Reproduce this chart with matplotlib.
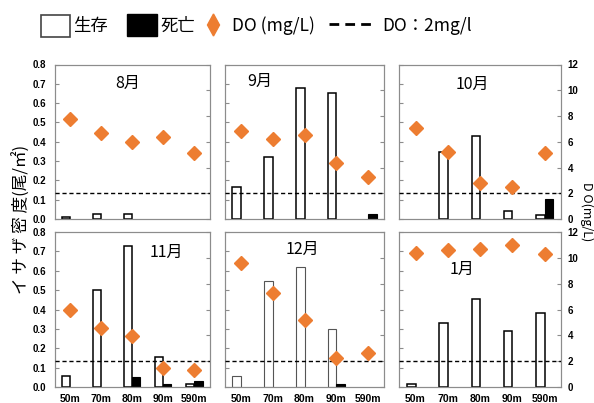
import matplotlib
matplotlib.use("Agg")
import matplotlib.pyplot as plt
from matplotlib.patches import Rectangle, Polygon
from matplotlib.lines import Line2D
import numpy as np

plt.rcParams['font.family'] = ['Noto Sans CJK JP', 'DejaVu Sans']

stations = ["50m", "70m", "80m", "90m", "590m"]
months = ["8月", "9月", "10月", "11月", "12月", "1月"]

alive = {
    "8月":  [0.012, 0.028, 0.028, 0.0, 0.0],
    "9月":  [0.168, 0.322, 0.676, 0.654, 0.0],
    "10月": [0.0, 0.346, 0.431, 0.040, 0.021],
    "11月": [0.057, 0.499, 0.728, 0.155, 0.014],
    "12月": [0.057, 0.545, 0.620, 0.300, 0.0],
    "1月":  [0.017, 0.329, 0.454, 0.288, 0.380],
}
dead = {
    "8月":  [0.0, 0.0, 0.0, 0.0, 0.0],
    "9月":  [0.0, 0.0, 0.0, 0.0, 0.025],
    "10月": [0.0, 0.0, 0.0, 0.0, 0.104],
    "11月": [0.0, 0.0, 0.054, 0.017, 0.030],
    "12月": [0.0, 0.0, 0.0, 0.015, 0.0],
    "1月":  [0.0, 0.0, 0.0, 0.0, 0.0],
}
do_vals = {
    "8月":  [7.8, 6.7, 6.0, 6.35, 5.1],
    "9月":  [6.87, 6.18, 6.5, 4.34, 3.28],
    "10月": [7.07, 5.19, 2.79, 2.5, 5.16],
    "11月": [6.0, 4.6, 3.98, 1.47, 1.29],
    "12月": [9.6, 7.25, 5.16, 2.22, 2.63],
    "1月":  [10.34, 10.62, 10.67, 11.0, 10.29],
}
do_threshold = 2.0

left_ticks = [0.0, 0.1, 0.2, 0.3, 0.4, 0.5, 0.6, 0.7, 0.8]
right_ticks = [0, 2, 4, 6, 8, 10, 12]

W, H = 594, 403
fig = plt.figure(figsize=(W / 100, H / 100), dpi=100)

cols = [(54.5, 210.0), (224.7, 384.3), (399.4, 560.7)]
rows = [(64.5, 219.0), (232.0, 387.0)]
label_pos = {
    "8月": (0.47, 0.88), "9月": (0.22, 0.89), "10月": (0.45, 0.87),
    "11月": (0.72, 0.87), "12月": (0.49, 0.89), "1月": (0.39, 0.76),
}

orange = "#ED7D31"
spine_c = "#8c8c8c"
bw = 0.26
x = np.arange(len(stations))

for i, m in enumerate(months):
    r, c = divmod(i, 3)
    x0, x1 = cols[c]
    y0, y1 = rows[r]
    ax = fig.add_axes([x0 / W, 1 - y1 / H, (x1 - x0) / W, (y1 - y0) / H])
    ax2 = ax.twinx()

    ec = "#555555" if m == "12月" else "black"
    lw = 0.8 if m == "12月" else 1.1
    a_vals = np.array(alive[m])
    d_vals = np.array(dead[m])
    am = a_vals > 0
    dm = d_vals > 0
    ax.bar(x[am] - bw, a_vals[am], width=bw, align='edge', facecolor='white',
           edgecolor=ec, linewidth=lw, zorder=2)
    if dm.any():
        ax.bar(x[dm], d_vals[dm], width=bw, align='edge', facecolor='black',
               edgecolor='black', linewidth=0.8, zorder=2)
    ax.set_xlim(-0.5, len(stations) - 0.5)
    ax.set_ylim(0, 0.8)
    ax.set_yticks(left_ticks)
    ax.set_xticks(x)

    ax2.set_ylim(0, 12)
    ax2.set_yticks(right_ticks)
    ax2.axhline(do_threshold, color='black', linestyle=(0, (3, 2)), linewidth=1.0, zorder=3)
    ax2.plot(x, do_vals[m], linestyle='none', marker='D', markersize=7,
             color=orange, markeredgecolor=orange, zorder=4)

    for a in (ax, ax2):
        for s in a.spines.values():
            s.set_color(spine_c)
            s.set_linewidth(0.8)

    ax.tick_params(axis='y', direction='in', length=3, color=spine_c,
                   labelsize=7, pad=6)
    ax2.tick_params(axis='y', direction='in', length=3, color=spine_c,
                    labelsize=7, pad=5)
    ax.tick_params(axis='x', length=0, labelsize=7.5, pad=5)

    if c != 0:
        ax.tick_params(axis='y', labelleft=False)
    else:
        ax.set_yticklabels([f"{v:.1f}" for v in left_ticks], fontweight='bold',
                           family=['Liberation Sans'])
    if c != 2:
        ax2.tick_params(axis='y', labelright=False)
    else:
        ax2.set_yticklabels([str(v) for v in right_ticks], fontweight='bold',
                            family=['Liberation Sans'])
    if r == 0:
        ax.tick_params(axis='x', labelbottom=False)
    else:
        ax.set_xticklabels(stations, fontweight='bold', family=['Liberation Sans'])

    lx, ly = label_pos[m]
    ax.text(lx, ly, m, transform=ax.transAxes, ha='center', va='center',
            fontsize=11.5, family=['Noto Sans CJK JP'])

# left / right axis titles
fig.text(22 / W, 1 - 219 / H, "イ サ ザ 密 度(尾/㎡)", rotation=90, ha='center',
         va='center', fontsize=12)
fig.text(587 / W, 1 - 212 / H, "D O(mg/L)", rotation=270, ha='center',
         va='center', fontsize=9)

# legend (figure coordinates)
def fx(px):
    return px / W

def fy(py):
    return 1 - py / H

leg_fs = 12.5
fig.patches.append(Rectangle((fx(41), fy(37)), fx(70) - fx(41), fy(15) - fy(37),
                             transform=fig.transFigure, facecolor='white',
                             edgecolor='#444444', linewidth=1.2))
fig.text(fx(73), fy(26), "生存", ha='left', va='center', fontsize=leg_fs)
fig.patches.append(Rectangle((fx(127), fy(36)), fx(157) - fx(127), fy(14) - fy(36),
                             transform=fig.transFigure, facecolor='black',
                             edgecolor='black', linewidth=1.0))
fig.text(fx(160), fy(26), "死亡", ha='left', va='center', fontsize=leg_fs)
fig.patches.append(Polygon([(fx(213.5), fy(14)), (fx(219.5), fy(25)),
                            (fx(213.5), fy(36)), (fx(207.5), fy(25))],
                           closed=True, transform=fig.transFigure,
                           facecolor=orange, edgecolor=orange))
fig.text(fx(232), fy(26), "DO (mg/L)", ha='left', va='center', fontsize=leg_fs)
fig.lines.append(Line2D([fx(329), fx(375)], [fy(24), fy(24)], transform=fig.transFigure,
                        color='black', linestyle=(0, (3.5, 2.2)), linewidth=2.0))
fig.text(fx(382), fy(26), "DO：2mg/l", ha='left', va='center', fontsize=leg_fs)

fig.savefig("out.png", dpi=100)
